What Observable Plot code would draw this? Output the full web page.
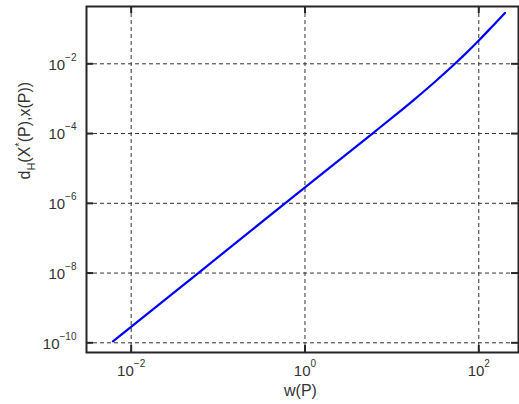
<!DOCTYPE html>
<html><head><meta charset="utf-8">
<script src="https://cdn.jsdelivr.net/npm/d3@7"></script>
<script src="https://cdn.jsdelivr.net/npm/@observablehq/plot@0.6"></script>
<style>body{margin:0;background:#fff}</style>
</head><body><div id="chart"></div>
<script>
// data (log-log)
const wP = [0.00617, 0.0592, 0.589, 5.97, 10.0, 17.8, 31.6, 53.1, 75.0, 100, 141, 200];
const dH = [1.10e-10, 1.0e-8, 1.0e-6, 1.0e-4, 2.81e-4, 9.14e-4, 3.11e-3, 1.0e-2, 0.0227, 0.0465, 0.114, 0.288];
const xTicks = [1e-2, 1e0, 1e2];
const yTicks = [1e-10, 1e-8, 1e-6, 1e-4, 1e-2];
const xLabel = "w(P)";
const yLabel = "dH(X*(P),x(P))";
const yLabelParts = [["d", 0], ["H", 1], ["(X", 0], ["*", 2], ["(P),x(P))", 0]]; // 0 normal, 1 sub, 2 sup

const W = 519, H = 404, mL = 86, mR = 1, mT = 6, mB = 52;
const innerH = H - mT - mB, innerW = W - mL - mR, tick = 7;
const frameColor = "#262626";
const data = wP.map((w, i) => ({w, d: dH[i]}));
const expFmt = d => String(Math.round(Math.log10(d)));

const chart = Plot.plot({
  width: W, height: H,
  marginLeft: mL, marginRight: mR, marginTop: mT, marginBottom: mB,
  style: {fontFamily: "'Liberation Sans', Arial, Helvetica, sans-serif", fontSize: "15px", color: "#333", background: "#fff"},
  x: {type: "log", domain: [10 ** -2.514, 10 ** 2.457], label: null},
  y: {type: "log", domain: [10 ** -10.278, 10 ** -0.357], label: null},
  marks: [
    Plot.gridX(xTicks, {stroke: "#333", strokeOpacity: 1, strokeWidth: 1, strokeDasharray: "4,3"}),
    Plot.gridY(yTicks, {stroke: "#333", strokeOpacity: 1, strokeWidth: 1, strokeDasharray: "4,3"}),
    Plot.ruleX(xTicks, {x: d => d, insetTop: innerH - tick, stroke: frameColor, strokeWidth: 2}),
    Plot.ruleX(xTicks, {x: d => d, insetBottom: innerH - tick, stroke: frameColor, strokeWidth: 2}),
    Plot.ruleY(yTicks, {y: d => d, insetRight: innerW - tick, stroke: frameColor, strokeWidth: 2}),
    Plot.ruleY(yTicks, {y: d => d, insetLeft: innerW - tick, stroke: frameColor, strokeWidth: 2}),
    Plot.line(data, {x: "w", y: "d", stroke: "#0000ff", strokeWidth: 2.2, curve: "monotone-x"}),
    Plot.frame({stroke: frameColor, strokeWidth: 2}),
    Plot.axisX(xTicks, {tickSize: 0, tickPadding: 13, tickFormat: expFmt, fontSize: 15, label: null}),
    Plot.axisY(yTicks, {tickSize: 0, tickPadding: 10, tickFormat: expFmt, fontSize: 15, dy: 1, label: null}),
    Plot.text([xLabel], {text: d => d, frameAnchor: "bottom", dy: 43, dx: -2, lineAnchor: "bottom", fontSize: 16, fill: "#333"}),
    Plot.text([yLabel], {text: d => d, frameAnchor: "left", dx: -62, rotate: -90, fontSize: 16, fill: "#333"})
  ]
});
document.getElementById("chart").appendChild(chart);

// superscript exponents on tick labels
const svg = d3.select(chart);
svg.selectAll('g[aria-label="x-axis tick label"] text, g[aria-label="y-axis tick label"] text').each(function() {
  const e = this.textContent.replace("-", "\u2212");
  const t = d3.select(this);
  t.text(null);
  t.append("tspan").text("10");
  t.append("tspan").attr("dy", -9).attr("font-size", 10).text(e);
});
// y label with subscript / superscript
svg.selectAll("text").filter(function() { return this.textContent === yLabel; }).each(function() {
  const t = d3.select(this);
  t.text(null);
  let shift = 0;
  for (const [s, kind] of yLabelParts) {
    const target = kind === 1 ? 5 : kind === 2 ? -7 : 0;
    t.append("tspan").attr("dy", target - shift).attr("font-size", kind ? 11 : 16).text(s);
    shift = target;
  }
});
</script>
</body></html>
